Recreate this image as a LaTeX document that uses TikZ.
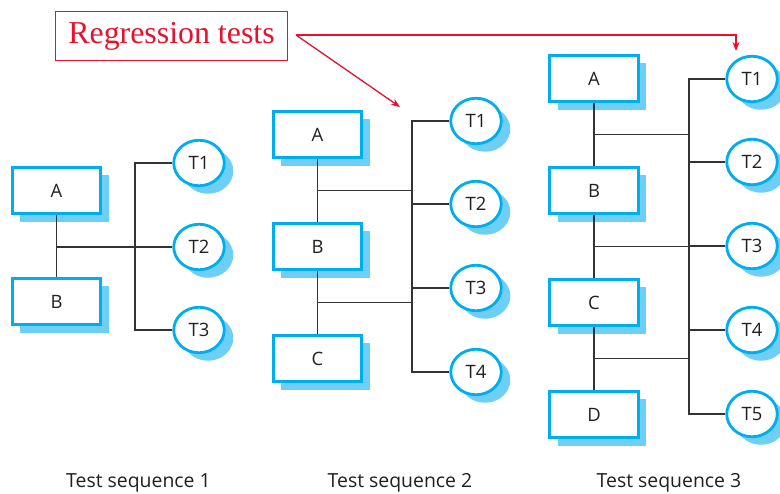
\documentclass[tikz,border=0pt]{standalone}
\usepackage{fontspec}
\setmainfont{Open Sans}
\newfontfamily\regfont{Liberation Serif}
\usetikzlibrary{shapes.geometric,shadows,calc,arrows.meta}
\definecolor{boxcyan}{HTML}{00AEEF}
\definecolor{shadecyan}{HTML}{6DCFF6}
\definecolor{regred}{HTML}{E8112D}
\definecolor{ink}{HTML}{231F20}
\definecolor{wirecol}{HTML}{333333}
\begin{document}
\begin{tikzpicture}[x=1bp,y=-1bp,
  unitbox/.style={draw=boxcyan, line width=3bp, fill=white,
    minimum width=88.5bp, minimum height=46.5bp, inner sep=0pt,
    font=\fontsize{18.5}{20}\selectfont, text=ink,
    drop shadow={shadow xshift=8bp, shadow yshift=-8bp, fill=shadecyan, opacity=1, draw=none}},
  testnode/.style={ellipse, draw=boxcyan, line width=2.8bp, fill=white,
    minimum width=50.5bp, minimum height=45.5bp, inner sep=0pt,
    font=\fontsize{18.5}{20}\selectfont, text=ink,
    drop shadow={shadow xshift=9bp, shadow yshift=-8bp, fill=shadecyan, opacity=1, draw=none}},
  seqlabel/.style={font=\fontsize{19.5}{22}\selectfont, text=ink, anchor=base},
  wire/.style={draw=wirecol, line width=1.3bp},
  regarrow/.style={draw=regred, line width=1.3bp, -{Stealth[length=9bp,width=7bp]}}]
\useasboundingbox (0,0) rectangle (780,494);

% ---------- Test sequence 1 ----------
\node[unitbox] (A1) at (56.5,190.5) {A};
\node[unitbox] (B1) at (56.5,301.5) {B};
\node[testnode] (T11) at (199,163) {T1};
\node[testnode] (T12) at (199,247) {T2};
\node[testnode] (T13) at (199,330) {T3};
\coordinate (bus1) at (135,0);
\draw[wire] (A1.south) -- (B1.north);
\draw[wire] (A1.south |- T12.west) -- (T12.west);
\draw[wire] (T11.west) -- (bus1 |- T11.west) -- (bus1 |- T13.west) -- (T13.west);

% ---------- Test sequence 2 ----------
\node[unitbox] (A2) at (317.5,134.5) {A};
\node[unitbox] (B2) at (317.5,246.5) {B};
\node[unitbox] (C2) at (317.5,358.5) {C};
\node[testnode] (T21) at (476,121) {T1};
\node[testnode] (T22) at (476,204) {T2};
\node[testnode] (T23) at (476,288) {T3};
\node[testnode] (T24) at (476,372) {T4};
\coordinate (bus2) at (412,0);
\coordinate (j21) at ($(A2.south)!.5!(B2.north)$);
\coordinate (j22) at ($(B2.south)!.5!(C2.north)$);
\draw[wire] (A2.south) -- (B2.north);
\draw[wire] (B2.south) -- (C2.north);
\draw[wire] (j21) -- (bus2 |- j21);
\draw[wire] (j22) -- (bus2 |- j22);
\draw[wire] (T21.west) -- (bus2 |- T21.west) -- (bus2 |- T24.west) -- (T24.west);
\draw[wire] (T22.west) -- (bus2 |- T22.west);
\draw[wire] (T23.west) -- (bus2 |- T23.west);

% ---------- Test sequence 3 ----------
\node[unitbox] (A3) at (594,78.5) {A};
\node[unitbox] (B3) at (594,190.5) {B};
\node[unitbox] (C3) at (594,302.5) {C};
\node[unitbox] (D3) at (594,414.5) {D};
\node[testnode] (T31) at (752,79) {T1};
\node[testnode] (T32) at (752,162) {T2};
\node[testnode] (T33) at (752,246) {T3};
\node[testnode] (T34) at (752,330) {T4};
\node[testnode] (T35) at (752,414) {T5};
\coordinate (bus3) at (689,0);
\coordinate (j31) at ($(A3.south)!.5!(B3.north)$);
\coordinate (j32) at ($(B3.south)!.5!(C3.north)$);
\coordinate (j33) at ($(C3.south)!.5!(D3.north)$);
\draw[wire] (A3.south) -- (B3.north);
\draw[wire] (B3.south) -- (C3.north);
\draw[wire] (C3.south) -- (D3.north);
\draw[wire] (j31) -- (bus3 |- j31);
\draw[wire] (j32) -- (bus3 |- j32);
\draw[wire] (j33) -- (bus3 |- j33);
\draw[wire] (T31.west) -- (bus3 |- T31.west) -- (bus3 |- T35.west) -- (T35.west);
\draw[wire] (T32.west) -- (bus3 |- T32.west);
\draw[wire] (T33.west) -- (bus3 |- T33.west);
\draw[wire] (T34.west) -- (bus3 |- T34.west);

% ---------- sequence captions ----------
\node[seqlabel] (L1) at (138.5,487) {Test sequence 1};
\node[seqlabel] (L2) at (400,487) {Test sequence 2};
\node[seqlabel] (L3) at (669,487) {Test sequence 3};

% ---------- regression tests callout ----------
\node[draw=regred, line width=1.6bp, minimum width=232bp, minimum height=49bp,
      inner sep=0pt, text=regred, font=\regfont\fontsize{32}{34}\selectfont]
      (reg) at (171.5,36) {Regression tests};
\coordinate (regout) at (296,35);
\coordinate (tip2) at (400,107);
\coordinate (tip3) at (736,51);
\draw[regarrow] (regout) -- (tip2);
\draw[regarrow] (regout) -| (tip3);
\end{tikzpicture}
\end{document}
